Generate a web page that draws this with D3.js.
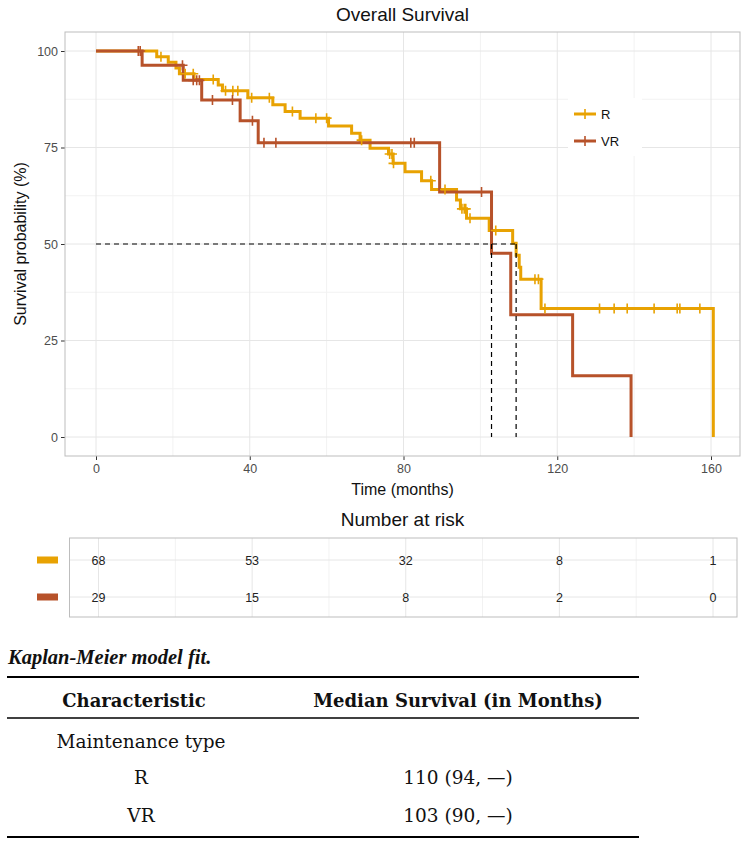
<!DOCTYPE html>
<html>
<head>
<meta charset="utf-8">
<script src="https://cdnjs.cloudflare.com/ajax/libs/d3/7.8.5/d3.min.js"></script>
<style>
  html, body { margin: 0; padding: 0; background: #fff; }
  svg { display: block; }
</style>
</head>
<body>
<div id="chart"></div>
<script>
// ---------------- DATA ----------------
const groups = ["R", "VR"];
const groupColors = ["#E8A202", "#B7522A"];
const timeTicks = [0, 40, 80, 120, 160];
const survTicks = [0, 25, 50, 75, 100];

// Kaplan-Meier step points (time in months, survival %)
const rTimes = [0, 15.8, 18.8, 20.8, 21.7, 25.5, 31.8, 32.9, 39.5, 46.0, 49.2, 53.1, 60.5, 66.5, 68.7, 71.3, 76.1, 77.3, 80.4, 84.7, 87.3, 93.8, 94.8, 96.4, 102.3, 108.4, 109.3, 110.1, 110.5, 115.8, 160.6];
const rSurv  = [100, 98.5, 97.1, 95.6, 94.1, 92.6, 91.2, 89.7, 87.9, 86.1, 84.3, 82.6, 80.6, 78.7, 76.9, 74.8, 73.3, 70.9, 68.7, 66.4, 64.1, 61.4, 59.1, 56.7, 53.5, 50.2, 47.1, 44.0, 40.9, 33.3, 0];
const rCensor = [16.9, 23.2, 25.3, 30.5, 33.7, 35.6, 36.9, 40.5, 45.1, 51.1, 57.2, 60.0, 69.1, 76.4, 77.0, 77.4, 87.1, 90.8, 95.2, 95.8, 96.2, 97.3, 104.0, 114.2, 115.1, 116.8, 131.0, 134.8, 138.2, 145.2, 151.2, 151.9, 157.1];

const vrTimes = [0, 12.0, 22.7, 27.5, 37.5, 42.2, 89.4, 102.9, 107.9, 124.0, 139.2];
const vrSurv  = [100, 96.3, 92.4, 87.3, 81.9, 76.2, 63.5, 47.6, 31.7, 15.9, 0];
const vrCensor = [11.0, 11.5, 22.5, 25.3, 26.2, 26.9, 30.3, 35.5, 40.7, 43.7, 46.8, 81.9, 82.8, 100.3];

const medianTimes = [109.3, 102.9];   // R, VR
const medianLevel = 50;

// Number at risk
const riskR  = [68, 53, 32, 8, 1];
const riskVR = [29, 15, 8, 2, 0];

// Kaplan-Meier model fit table
const tableCaption = "Kaplan-Meier model fit.";
const tableHeader = ["Characteristic", "Median Survival (in Months)"];
const tableRows = [["Maintenance type", ""], ["R", "110 (94, \u2014)"], ["VR", "103 (90, \u2014)"]];

// ---------------- DRAW ----------------
const W = 748, H = 843;
const svg = d3.select("#chart").append("svg").attr("width", W).attr("height", H)
  .style("font-family", "'Liberation Sans', Arial, sans-serif");

const panel = {left: 65, right: 740, top: 32, bottom: 456};
const x = d3.scaleLinear().domain([0, 160]).range([96, 711]);
const y = d3.scaleLinear().domain([0, 100]).range([437, 51]);

// Title
svg.append("text").attr("x", (panel.left + panel.right) / 2).attr("y", 21)
  .attr("text-anchor", "middle").attr("font-size", 19).attr("fill", "#111").text("Overall Survival");

// Panel background + grid
const g = svg.append("g");
g.append("rect").attr("x", panel.left).attr("y", panel.top)
  .attr("width", panel.right - panel.left).attr("height", panel.bottom - panel.top).attr("fill", "#fff");

const minorX = d3.range(20, 161, 40);
const minorY = d3.range(12.5, 100, 25);
g.selectAll(".mnx").data(minorX).join("line")
  .attr("x1", d => x(d)).attr("x2", d => x(d)).attr("y1", panel.top).attr("y2", panel.bottom)
  .attr("stroke", "#F2F2F2").attr("stroke-width", 1);
g.selectAll(".mny").data(minorY).join("line")
  .attr("y1", d => y(d)).attr("y2", d => y(d)).attr("x1", panel.left).attr("x2", panel.right)
  .attr("stroke", "#F2F2F2").attr("stroke-width", 1);
g.selectAll(".mjx").data(timeTicks).join("line")
  .attr("x1", d => x(d)).attr("x2", d => x(d)).attr("y1", panel.top).attr("y2", panel.bottom)
  .attr("stroke", "#E6E6E6").attr("stroke-width", 1);
g.selectAll(".mjy").data(survTicks).join("line")
  .attr("y1", d => y(d)).attr("y2", d => y(d)).attr("x1", panel.left).attr("x2", panel.right)
  .attr("stroke", "#E6E6E6").attr("stroke-width", 1);

// Axes
const xAxis = d3.axisBottom(x).tickValues(timeTicks).tickSize(4).tickPadding(4);
const yAxis = d3.axisLeft(y).tickValues(survTicks).tickSize(4).tickPadding(3);
const gx = svg.append("g").attr("transform", `translate(0,${panel.bottom})`).call(xAxis);
const gy = svg.append("g").attr("transform", `translate(${panel.left},0)`).call(yAxis);
[gx, gy].forEach(a => {
  a.select(".domain").remove();
  a.selectAll(".tick line").attr("stroke", "#333");
  a.selectAll(".tick text").attr("fill", "#4D4D4D").attr("font-size", 12.5)
    .style("font-family", "'Liberation Sans', Arial, sans-serif");
});

svg.append("text").attr("x", (panel.left + panel.right) / 2).attr("y", 495)
  .attr("text-anchor", "middle").attr("font-size", 16).attr("fill", "#111").text("Time (months)");
svg.append("text").attr("transform", `translate(26,${(panel.top + panel.bottom) / 2}) rotate(-90)`)
  .attr("text-anchor", "middle").attr("font-size", 16).attr("fill", "#111").text("Survival probability (%)");

// Clip
svg.append("clipPath").attr("id", "clip").append("rect")
  .attr("x", panel.left).attr("y", panel.top).attr("width", panel.right - panel.left).attr("height", panel.bottom - panel.top);
const plot = svg.append("g").attr("clip-path", "url(#clip)");

const series = [
  {name: "R", times: rTimes, surv: rSurv, cens: rCensor, color: groupColors[0]},
  {name: "VR", times: vrTimes, surv: vrSurv, cens: vrCensor, color: groupColors[1]}
];
const line = d3.line().x(d => x(d[0])).y(d => y(d[1])).curve(d3.curveStepAfter);
function survAt(s, t) {
  let v = s.surv[0];
  for (let i = 0; i < s.times.length; i++) { if (s.times[i] <= t) v = s.surv[i]; }
  return v;
}
series.forEach(s => {
  const pts = s.times.map((t, i) => [t, s.surv[i]]);
  plot.append("path").attr("d", line(pts)).attr("fill", "none")
    .attr("stroke", s.color).attr("stroke-width", 3).attr("stroke-linejoin", "miter");
});
const cross = "M-5,0H5M0,-5V5";
series.forEach(s => {
  plot.selectAll(null).data(s.cens).join("path")
    .attr("transform", t => `translate(${x(t)},${y(survAt(s, t))})`)
    .attr("d", cross).attr("stroke", s.color).attr("stroke-width", 1.6).attr("fill", "none");
});

// Median lines
const maxMed = d3.max(medianTimes);
plot.append("line").attr("x1", x(0)).attr("x2", x(maxMed)).attr("y1", y(medianLevel)).attr("y2", y(medianLevel))
  .attr("stroke", "#000").attr("stroke-width", 1.2).attr("stroke-dasharray", "5,4");
plot.selectAll(".med").data(medianTimes).join("line")
  .attr("x1", d => x(d)).attr("x2", d => x(d)).attr("y1", y(medianLevel)).attr("y2", y(0))
  .attr("stroke", "#000").attr("stroke-width", 1.2).attr("stroke-dasharray", "5,4");

// Panel border
svg.append("rect").attr("x", panel.left).attr("y", panel.top)
  .attr("width", panel.right - panel.left).attr("height", panel.bottom - panel.top)
  .attr("fill", "none").attr("stroke", "#BDBDBD").attr("stroke-width", 1);

// Legend
const lg = svg.append("g");
lg.append("rect").attr("x", 568).attr("y", 98).attr("width", 74).attr("height", 58).attr("fill", "#fff");
groups.forEach((name, i) => {
  const yy = 114 + i * 27;
  lg.append("line").attr("x1", 574).attr("x2", 596).attr("y1", yy).attr("y2", yy)
    .attr("stroke", groupColors[i]).attr("stroke-width", 3);
  lg.append("path").attr("transform", `translate(585,${yy})`).attr("d", cross)
    .attr("stroke", groupColors[i]).attr("stroke-width", 1.6);
  lg.append("text").attr("x", 601).attr("y", yy + 4.5).attr("font-size", 13).attr("fill", "#111").text(name);
});

// ---------------- Risk table ----------------
svg.append("text").attr("x", (panel.left + panel.right) / 2).attr("y", 526)
  .attr("text-anchor", "middle").attr("font-size", 19).attr("fill", "#111").text("Number at risk");
const rp = {left: 69.5, right: 737, top: 538, bottom: 617};
const xr = d3.scaleLinear().domain([0, 160]).range([98.5, 713]);
const yr = d3.scalePoint().domain(groups).range([560, 597]);
const rt = svg.append("g");
rt.append("rect").attr("x", rp.left).attr("y", rp.top).attr("width", rp.right - rp.left).attr("height", rp.bottom - rp.top).attr("fill", "#fff");
rt.selectAll(".rmx").data(minorX).join("line")
  .attr("x1", d => xr(d)).attr("x2", d => xr(d)).attr("y1", rp.top).attr("y2", rp.bottom).attr("stroke", "#F2F2F2");
rt.selectAll(".rjx").data(timeTicks).join("line")
  .attr("x1", d => xr(d)).attr("x2", d => xr(d)).attr("y1", rp.top).attr("y2", rp.bottom).attr("stroke", "#E6E6E6");
rt.selectAll(".rjy").data(groups).join("line")
  .attr("x1", rp.left).attr("x2", rp.right).attr("y1", d => yr(d)).attr("y2", d => yr(d)).attr("stroke", "#E6E6E6");
rt.append("rect").attr("x", rp.left).attr("y", rp.top).attr("width", rp.right - rp.left).attr("height", rp.bottom - rp.top)
  .attr("fill", "none").attr("stroke", "#BDBDBD");
[riskR, riskVR].forEach((vals, gi) => {
  rt.selectAll(null).data(vals).join("text")
    .attr("x", (d, i) => xr(timeTicks[i])).attr("y", yr(groups[gi]) + 4.5)
    .attr("text-anchor", "middle").attr("font-size", 12.5).attr("fill", "#222").text(d => d);
  rt.append("rect").attr("x", 37).attr("y", yr(groups[gi]) - 3.5).attr("width", 21).attr("height", 7)
    .attr("fill", groupColors[gi]);
});

// ---------------- Summary table ----------------
const serif = "'DejaVu Serif', 'Liberation Serif', serif";
const tb = svg.append("g").style("font-family", serif).attr("fill", "#111");
tb.append("text").attr("x", 8).attr("y", 664).attr("font-size", 20.5).attr("font-weight", "bold")
  .attr("font-style", "italic").style("font-family", "'Liberation Serif', serif").text(tableCaption);
tb.append("line").attr("x1", 7).attr("x2", 639).attr("y1", 677).attr("y2", 677).attr("stroke", "#000").attr("stroke-width", 2);
const colX = [134, 458];
tableHeader.forEach((h, i) => {
  tb.append("text").attr("x", colX[i]).attr("y", 707).attr("text-anchor", "middle")
    .attr("font-size", 18).attr("font-weight", "bold").text(h);
});
tb.append("line").attr("x1", 7).attr("x2", 639).attr("y1", 718).attr("y2", 718).attr("stroke", "#000").attr("stroke-width", 1.3);
const rowY = [748, 784, 822];
const bodyX = [141, 458];
tableRows.forEach((r, ri) => {
  r.forEach((c, ci) => {
    tb.append("text").attr("x", bodyX[ci]).attr("y", rowY[ri]).attr("text-anchor", "middle")
      .attr("font-size", 18.5).text(c);
  });
});
tb.append("line").attr("x1", 7).attr("x2", 639).attr("y1", 837).attr("y2", 837).attr("stroke", "#000").attr("stroke-width", 2);
</script>
</body>
</html>
